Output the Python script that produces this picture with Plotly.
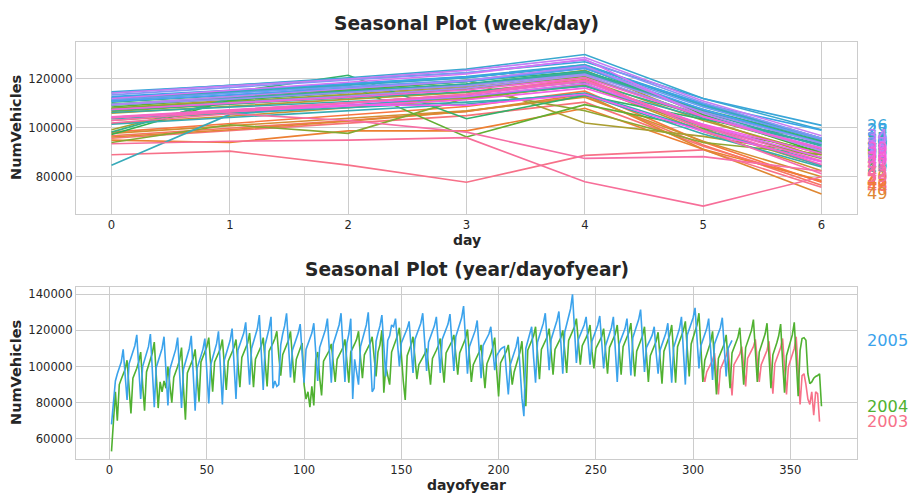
import math
import numpy as np
import pandas as pd
import plotly.graph_objects as go

# ---------------- data (daily NumVehicles) ----------------
START_DATE = "2003-11-01"
YEARS = [2003, 2004, 2005]

# 2003: Sat 1 Nov .. Wed 31 Dec (rows are Mon..Sun weeks)
vehicles_2003 = [
    [96500, 91500],
    [97000, 99000, 101500, 103500, 107500, 95000, 84500],
    [98500, 101000, 103500, 106000, 110000, 96000, 84000],
    [101000, 103000, 105000, 107000, 111000, 99000, 89000],
    [104500, 106500, 108500, 111000, 115000, 102000, 91500],
    [101000, 103500, 106000, 109000, 114000, 98000, 85000],
    [101500, 104500, 107500, 110500, 115500, 98500, 84500],
    [100000, 103000, 106500, 110000, 116500, 96000, 79000],
    [95000, 96000, 90000, 82000, 79000, 86000, 73000],
    [86000, 85000, 69500],
]

# 2004: Thu 1 Jan .. Fri 31 Dec
vehicles_2004 = [
    [53000, 68000, 86000, 70000],
    [90000, 93000, 95500, 98500, 103500, 87000, 74000],
    [93500, 96000, 99000, 102500, 108000, 90000, 75500],
    [97000, 100500, 104000, 107500, 113500, 93000, 77000],
    [91500, 86000, 92000, 88000, 100000, 88000, 80000],
    [94000, 96500, 100000, 103500, 110500, 88500, 70500],
    [96500, 99000, 101500, 104500, 109500, 93500, 80500],
    [102500, 105000, 108000, 111000, 116000, 99500, 86000],
    [102500, 105000, 107500, 110000, 115000, 99500, 87000],
    [103000, 105500, 108000, 110500, 115000, 100500, 88500],
    [105000, 107500, 110500, 113000, 118500, 102000, 88500],
    [104000, 106500, 109000, 111500, 116000, 101000, 89000],
    [108500, 110500, 113000, 115500, 119500, 106000, 95000],
    [106500, 109000, 111500, 114500, 119500, 104000, 91000],
    [104000, 107000, 110000, 113000, 90000, 82000, 86000],
    [77500, 89000, 78500, 104000, 108000, 94000, 84000],
    [103000, 105000, 107000, 109000, 112500, 101000, 91500],
    [104000, 106000, 108500, 110500, 115000, 101500, 91000],
    [108000, 110000, 112500, 115000, 119500, 105000, 93500],
    [106500, 108500, 110500, 113000, 116500, 104500, 94500],
    [108000, 112000, 120000, 85500, 100000, 95000, 90000],
    [108000, 111000, 114000, 117000, 121500, 105000, 92000],
    [81500, 106000, 109000, 112000, 116500, 103000, 93000],
    [101000, 103000, 105000, 107000, 110000, 99000, 90000],
    [104500, 106500, 109000, 111500, 115500, 102000, 91000],
    [107500, 109500, 111500, 114000, 117500, 105500, 95500],
    [107500, 110000, 112500, 115500, 120500, 104500, 91500],
    [101000, 103500, 105500, 108000, 112000, 99000, 88000],
    [101500, 104000, 107000, 110500, 116000, 98000, 83500],
    [102000, 104000, 106000, 108500, 112000, 100000, 90000],
    [97000, 101000, 104500, 108000, 114000, 96000, 78000],
    [109000, 111500, 114000, 117000, 122000, 106000, 93000],
    [109500, 112000, 114000, 116500, 121000, 107000, 95500],
    [109500, 111500, 113500, 116000, 120000, 107000, 96500],
    [114500, 117000, 119500, 122000, 126500, 112000, 101000],
    [111500, 113500, 116000, 118500, 123000, 108500, 99000],
    [110000, 112000, 114000, 116500, 121000, 107000, 96000],
    [110500, 113000, 115500, 118000, 123000, 108000, 95500],
    [111000, 113500, 116000, 119000, 124000, 108000, 94500],
    [108500, 111000, 114000, 117000, 122000, 105500, 91500],
    [106000, 108500, 111000, 114000, 119000, 103500, 90500],
    [108500, 111500, 114500, 117500, 123000, 105000, 91000],
    [111000, 114000, 116500, 120000, 125000, 108000, 94500],
    [112500, 116000, 119500, 123000, 129500, 109000, 91500],
    [103500, 107000, 110000, 113500, 119500, 100000, 84500],
    [104500, 107000, 110000, 112500, 117500, 101000, 88000],
    [107500, 110000, 113000, 116000, 121500, 104000, 90000],
    [110500, 113500, 116500, 120000, 126000, 107000, 91500],
    [108000, 111000, 114500, 118000, 124000, 104000, 88000],
    [106500, 109500, 113000, 117000, 123500, 102500, 85500],
    [106000, 110000, 113500, 117500, 124500, 102000, 83500],
    [109000, 115500, 116000, 114500, 96000, 90500, 91500],
    [93500, 94500, 95000, 96000, 78000],
]

# 2005: Sat 1 Jan .. Wed 16 Nov
vehicles_2005 = [
    [68000, 80000],
    [92000, 96000, 100000, 102500, 109500, 96000, 81500],
    [101500, 104500, 108000, 111500, 117500, 98000, 82000],
    [100000, 103500, 107000, 111000, 118000, 96000, 77500],
    [99500, 103000, 106000, 110000, 116500, 95500, 78500],
    [98500, 102000, 105500, 109500, 116000, 94500, 77000],
    [98500, 102000, 105500, 110000, 117000, 94000, 75500],
    [99000, 102500, 106000, 109500, 115500, 95500, 79500],
    [101000, 104500, 108500, 112500, 119500, 97500, 79000],
    [103500, 107000, 110500, 114500, 121000, 99500, 82000],
    [109000, 112000, 115000, 118500, 124500, 105500, 90000],
    [110000, 113500, 117000, 121000, 128500, 105500, 87000],
    [112000, 116000, 121000, 127500, 88000, 92000, 89000],
    [90000, 112000, 118000, 122500, 129500, 108000, 94000],
    [109000, 112000, 115000, 118500, 123500, 104500, 91000],
    [109500, 112500, 115500, 118500, 124000, 106000, 92000],
    [110500, 113500, 117000, 120500, 126500, 107000, 91000],
    [112500, 116000, 119500, 123000, 129500, 109000, 91500],
    [113000, 118000, 126500, 82000, 104000, 98000, 90000],
    [111000, 115000, 119000, 123000, 130000, 106000, 86000],
    [88000, 114000, 118500, 122500, 128500, 110000, 94500],
    [114500, 117000, 123000, 122000, 126500, 112000, 100000],
    [113000, 115500, 118000, 121000, 125000, 109500, 96500],
    [115000, 118000, 121000, 124000, 129500, 112000, 97500],
    [113500, 116500, 119000, 122500, 127500, 110500, 96500],
    [115000, 117500, 120500, 123500, 129000, 112000, 97500],
    [116500, 120000, 123500, 127000, 133500, 113000, 96000],
    [111000, 114000, 117000, 120000, 125500, 108000, 93500],
    [111500, 113500, 115500, 118000, 122000, 109000, 98000],
    [106000, 108000, 109500, 110500, 111000, 97000, 84500],
    [101000, 104500, 107500, 111000, 116500, 98000, 82500],
    [72500, 110000, 114000, 117500, 122000, 105000, 91000],
    [113500, 117000, 120500, 124000, 129500, 112000, 98000],
    [115000, 118500, 122000, 125500, 130500, 112500, 96000],
    [119000, 123000, 127500, 132000, 140000, 117000, 102000],
    [115000, 117500, 120000, 123000, 127500, 112000, 101000],
    [114000, 117000, 120000, 123000, 128000, 111000, 99000],
    [111500, 115000, 118000, 121500, 127500, 108000, 91500],
    [112500, 115500, 118000, 121000, 126500, 109000, 95000],
    [116000, 119500, 122500, 126000, 131500, 112500, 97000],
    [110500, 112500, 115000, 117500, 122000, 107500, 96000],
    [109000, 112000, 115000, 118500, 124000, 106000, 91000],
    [110500, 114000, 117500, 121000, 127500, 107000, 90000],
    [117500, 120500, 123500, 127000, 132500, 114000, 99000],
    [111500, 114500, 117500, 121000, 126500, 108000, 92500],
    [112500, 115500, 118500, 121500, 127000, 109000, 94500],
    [110000, 112500, 114500],
]

X_TICKS_DAY = [0, 1, 2, 3, 4, 5, 6]
Y_TICKS_WEEK = [80000, 100000, 120000]
X_TICKS_DOY = [0, 50, 100, 150, 200, 250, 300, 350]
Y_TICKS_DOY = [60000, 80000, 100000, 120000, 140000]

# ---------------- seaborn "husl" palette ----------------
_M = [[3.2406, -1.5372, -0.4986], [-0.9689, 1.8758, 0.0415], [0.0557, -0.2040, 1.0570]]
_REF_U, _REF_V = 0.19784, 0.46834


def _max_chroma(L, H):
    hrad = math.radians(H)
    sinH, cosH = math.sin(hrad), math.cos(hrad)
    sub1 = (L + 16) ** 3 / 1560896.0
    sub2 = sub1 if sub1 > 0.008856 else L / 903.3
    result = float("inf")
    for m1, m2, m3 in _M:
        top = (0.99915 * m1 + 1.05122 * m2 + 1.14460 * m3) * sub2
        rbottom = 0.86330 * m3 - 0.17266 * m2
        lbottom = 0.12949 * m3 - 0.38848 * m1
        bottom = (rbottom * sinH + lbottom * cosH) * sub2
        for t in (0.0, 1.0):
            C = L * (top - 1.05122 * t) / (bottom + 0.17266 * sinH * t)
            if 0.0 < C < result:
                result = C
    return result


def _husl_to_rgb(h, s, l):
    C = _max_chroma(l, h) / 100.0 * s
    hrad = math.radians(h)
    U, V = math.cos(hrad) * C, math.sin(hrad) * C
    t = (l + 16.0) / 116.0
    Y = t ** 3 if t ** 3 > 0.008856 else (116.0 * t - 16.0) / 903.3
    varU = U / (13.0 * l) + _REF_U
    varV = V / (13.0 * l) + _REF_V
    X = 0.0 - (9.0 * Y * varU) / ((varU - 4.0) * varV - varU * varV)
    Z = (9.0 * Y - 15.0 * varV * Y - varV * X) / (3.0 * varV)
    out = []
    for r in _M:
        c = r[0] * X + r[1] * Y + r[2] * Z
        c = 12.92 * c if c <= 0.0031308 else 1.055 * c ** (1 / 2.4) - 0.055
        out.append(min(max(c, 0.0), 1.0))
    return out


def husl_palette(n, h=0.01, s=0.9, l=0.65):
    hues = ((np.linspace(0, 1, n + 1)[:-1] + h) % 1) * 359
    cols = []
    for hh in hues:
        r, g, b = _husl_to_rgb(hh, s * 99, l * 99)
        cols.append("#%02x%02x%02x" % (round(r * 255), round(g * 255), round(b * 255)))
    return cols


# ---------------- frame ----------------
values = [v for block in (vehicles_2003, vehicles_2004, vehicles_2005) for row in block for v in row]
dates = pd.date_range(START_DATE, periods=len(values), freq="D")
df = pd.DataFrame({"NumVehicles": values}, index=dates)
df["week"] = df.index.isocalendar().week.astype(int).values
df["day"] = df.index.dayofweek
df["year"] = df.index.year
df["dayofyear"] = df.index.dayofyear

TEXT = "#262626"
FONT = "DejaVu Sans"

# page geometry (the page body has an 8px margin, so the figure sits at (8, 8))
OFF = 8
W, H = 902, 488
PL, PR, PT, PB = 76, 857, 42, 459          # plot box in page pixels
ML, MT = PL - OFF, PT - OFF
MR, MB = W - (PR - OFF), H - (PB - OFF)
PW, PH = PR - PL, PB - PT


def px_x(x):
    return (x - PL) / PW


def px_y(y):
    return (PB - y) / PH


fig = go.Figure()
annotations = []

# top: week/day
weeks = sorted(df["week"].unique())
week_names = list(pd.unique(df["week"]))  # order of appearance (used for labels)
pal_w = husl_palette(len(weeks))
for i, wk in enumerate(weeks):
    sub = df[df["week"] == wk].groupby("day")["NumVehicles"].mean().sort_index()
    fig.add_trace(go.Scatter(x=sub.index, y=sub.values, mode="lines",
                             line=dict(color=pal_w[i], width=1.6),
                             xaxis="x", yaxis="y", showlegend=False, hoverinfo="skip"))
    annotations.append(dict(text=str(week_names[i]), xref="x domain", x=1, xshift=8,
                            xanchor="left", yref="y", y=float(sub.values[-1]), yanchor="middle",
                            showarrow=False, font=dict(family=FONT, size=16.2, color=pal_w[i])))

# bottom: year/dayofyear
pal_y = husl_palette(len(YEARS))
for i, yr in enumerate(YEARS):
    sub = df[df["year"] == yr].sort_values("dayofyear")
    fig.add_trace(go.Scatter(x=sub["dayofyear"], y=sub["NumVehicles"], mode="lines",
                             line=dict(color=pal_y[i], width=1.6),
                             xaxis="x2", yaxis="y2", showlegend=False, hoverinfo="skip"))
    annotations.append(dict(text=str(yr), xref="x2 domain", x=1, xshift=8,
                            xanchor="left", yref="y2", y=float(sub["NumVehicles"].iloc[-1]),
                            yanchor="middle", showarrow=False,
                            font=dict(family=FONT, size=16.2, color=pal_y[i])))


def txt(s, x, y, size, angle=0):
    return dict(text="<b>%s</b>" % s, xref="paper", yref="paper", x=px_x(x), y=px_y(y),
                xanchor="center", yanchor="middle", showarrow=False, textangle=angle,
                font=dict(family=FONT, size=size, color=TEXT))


annotations += [
    txt("Seasonal Plot (week/day)", 466.5, 23.5, 18.6),
    txt("Seasonal Plot (year/dayofyear)", 466.5, 269.5, 18.6),
    txt("day", 466.5, 240, 14),
    txt("dayofyear", 466.5, 485, 14),
    txt("NumVehicles", 16, 128, 14.5, -90),
    txt("NumVehicles", 16, 373, 14.5, -90),
]

axis_style = dict(showline=True, mirror=True, linecolor="#cccccc", linewidth=1.25,
                  showgrid=True, gridcolor="#cccccc", gridwidth=1, zeroline=False,
                  ticks="", tickfont=dict(family=FONT, size=11.6, color=TEXT))

fig.update_layout(
    width=W, height=H,
    margin=dict(l=ML, r=MR, t=MT, b=MB, pad=0),
    paper_bgcolor="white", plot_bgcolor="white",
    showlegend=False,
    xaxis=dict(domain=[0, 1], anchor="y", range=[-0.3, 6.3], tickvals=X_TICKS_DAY, **axis_style),
    yaxis=dict(domain=[px_y(213.7), 1], anchor="x", range=[64900, 135100],
               tickvals=Y_TICKS_WEEK, tickformat="d", **axis_style),
    xaxis2=dict(domain=[0, 1], anchor="y2", range=[-17.25, 384.25], tickvals=X_TICKS_DOY, **axis_style),
    yaxis2=dict(domain=[0, px_y(286.7)], anchor="x2", range=[48800, 144200],
                tickvals=Y_TICKS_DOY, tickformat="d", **axis_style),
    annotations=annotations,
)

fig.write_html("out.html", config={"displayModeBar": False})
